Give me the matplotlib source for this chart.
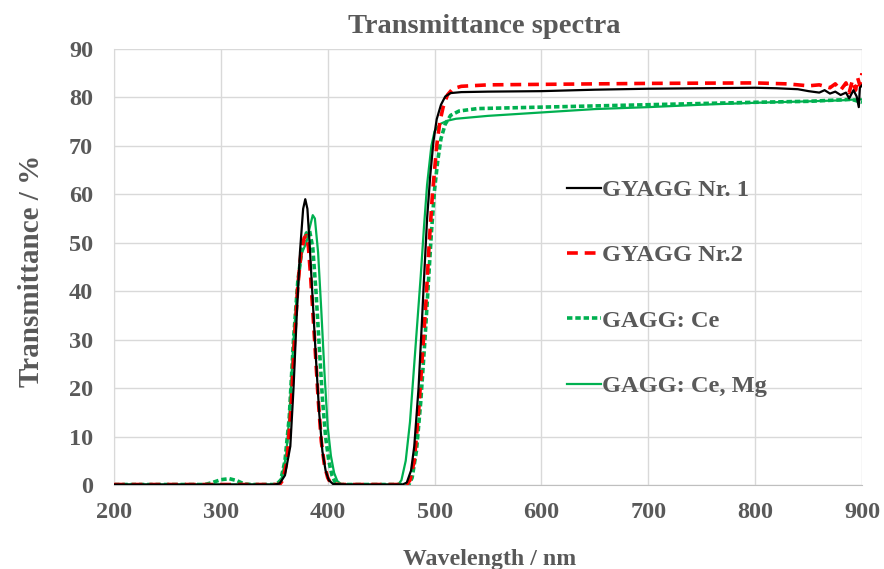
import matplotlib
matplotlib.use("Agg")
import matplotlib.pyplot as plt

# ---- data ----
wl_nr1 = [200, 300, 350, 355, 360, 365, 368, 371, 374, 377, 379, 381, 383, 386, 389, 392, 395, 398, 401, 405, 420,
          470, 474, 478, 481, 485, 488, 490, 493, 496, 499, 502, 506, 510, 515, 525, 550, 600, 650, 700, 750, 800,
          820, 840, 850, 860, 865, 870, 875, 880, 885, 888, 892, 895, 897, 898, 900]
t_nr1 = [0.1, 0.1, 0.1, 0.3, 2, 8, 20, 35, 48, 57, 59, 57, 50, 38, 26, 15, 7, 3, 1, 0.2, 0.1,
         0.1, 0.5, 3, 8, 20, 33, 42, 55, 64, 71, 75.5, 78.5, 80.2, 80.9, 81.1, 81.2, 81.3, 81.6, 81.8, 81.9, 82.0,
         81.9, 81.7, 81.3, 81.0, 81.5, 80.8, 81.2, 80.5, 81.0, 79.8, 81.5, 80.2, 78.0, 82.0, 82.5]

wl_nr2 = [200, 355, 358, 362, 366, 369, 372, 375, 378, 380, 382, 384, 386, 388, 391, 394, 397, 400, 403, 410,
          474, 477, 481, 485, 489, 492, 495, 498, 502, 505, 508, 512, 517, 525, 550, 600, 700, 800,
          830, 850, 860, 870, 875, 880, 885, 888, 891, 894, 896, 898, 900]
t_nr2 = [0.1, 0.1, 1, 5, 17, 30, 41, 48, 51, 51.5, 49, 43, 36, 29, 18, 9, 4, 1.5, 0.3, 0.1,
         0.1, 1, 5, 15, 28, 38, 50, 60, 70, 75, 78, 80.5, 81.8, 82.3, 82.6, 82.7, 82.9, 83.0,
         82.8, 82.4, 82.6, 82.0, 82.8, 81.5, 83.0, 81.0, 83.5, 81.5, 84.0, 82.5, 85.0]

wl_ce = [200, 285, 292, 300, 308, 315, 322, 330, 352, 356, 360, 364, 368, 372, 376, 380, 383, 386, 389, 392, 395,
         398, 401, 404, 407, 412, 476, 479, 483, 487, 491, 494, 497, 500, 503, 506, 510, 515, 523, 540, 600, 700,
         800, 850, 880, 890, 895, 900]
t_ce = [0.1, 0.1, 0.5, 1.1, 1.3, 0.9, 0.2, 0.1, 0.1, 1, 5, 14, 30, 42, 49, 52, 52.5, 49, 40, 29, 18,
        10, 5, 2, 0.5, 0.1, 0.1, 1.5, 7, 17, 30, 41, 52, 61, 67, 71.5, 74.5, 76.3, 77.2, 77.7, 78.0, 78.5,
        79.0, 79.2, 79.5, 79.6, 79.3, 79.0]

wl_cemg = [200, 353, 357, 361, 364, 368, 372, 376, 380, 383, 386, 388, 391, 394, 397, 400, 403, 406, 409, 413,
           466, 469, 473, 477, 481, 484, 487, 490, 493, 497, 500, 505, 512, 520, 550, 600, 650, 700, 750, 800,
           850, 880, 895, 900]
t_cemg = [0.1, 0.1, 1.5, 6, 14, 30, 42, 48, 50, 53, 55.7, 55, 48, 36, 23, 12, 6, 2.5, 0.8, 0.1,
          0.1, 1, 5, 13, 25, 34, 43, 53, 62, 70, 73, 74.5, 75.2, 75.6, 76.2, 76.9, 77.6, 78.0, 78.5, 78.9,
          79.2, 79.4, 79.6, 79.6]

labels = ["GYAGG Nr. 1", "GYAGG Nr.2", "GAGG: Ce", "GAGG: Ce, Mg"]
x_ticks = [200, 300, 400, 500, 600, 700, 800, 900]
y_ticks = [0, 10, 20, 30, 40, 50, 60, 70, 80, 90]

# ---- style ----
plt.rcParams['font.family'] = ['Liberation Serif', 'DejaVu Serif']
plt.rcParams['font.weight'] = 'bold'
txt = '#595959'
green = '#00b050'
W, H = 884, 569

fig = plt.figure(figsize=(W / 100, H / 100), dpi=100)
ax = fig.add_axes([114/W, 1-485/H, (862-114)/W, (485-49)/H])

ax.plot(wl_nr1, t_nr1, color='black', lw=1.6, label=labels[0], zorder=4)
ax.plot(wl_nr2, t_nr2, color='#ff0000', lw=2.6, ls=(0, (3.0, 1.9)), label=labels[1], zorder=3)
ax.plot(wl_ce, t_ce, color=green, lw=2.6, ls=(0, (1.5, 0.8)), label=labels[2], zorder=2)
ax.plot(wl_cemg, t_cemg, color=green, lw=1.6, label=labels[3], zorder=1)

ax.set_xlim(200, 900)
ax.set_ylim(0, 90)
ax.set_xticks(x_ticks)
ax.set_yticks(y_ticks)
ax.tick_params(length=0, labelsize=17.5, labelcolor=txt)
ax.tick_params(axis='x', pad=12)
ax.tick_params(axis='y', pad=15)
for lab in ax.get_xticklabels() + ax.get_yticklabels():
    lab.set_fontweight('bold')
ax.grid(True, color='#d9d9d9', lw=1)
ax.set_axisbelow(True)
for s in ['top', 'right']:
    ax.spines[s].set_visible(False)
ax.spines['left'].set_color('#d9d9d9')
ax.spines['bottom'].set_color('#bfbfbf')

fig.text(484/W, 1-33/H, "Transmittance spectra", fontsize=20.5, fontweight='bold', color=txt,
         ha='center', va='baseline')
fig.text(489.5/W, 1-565/H, "Wavelength / nm", fontsize=17.2, fontweight='bold', color=txt,
         ha='center', va='baseline')
fig.text(32/W, 1-271/H, "Transmittance / %", fontsize=21, fontweight='bold', color=txt,
         ha='center', va='center', rotation=90)

leg = ax.legend(loc='upper left', bbox_to_anchor=((567-114)/(862-114), (485-179)/(485-49)), frameon=False,
                fontsize=17.6, labelspacing=1.77, handlelength=1.4, handletextpad=0.05,
                borderaxespad=0, borderpad=0)
for t in leg.get_texts():
    t.set_color(txt)
    t.set_fontweight('bold')

fig.savefig("out.png", dpi=100)
